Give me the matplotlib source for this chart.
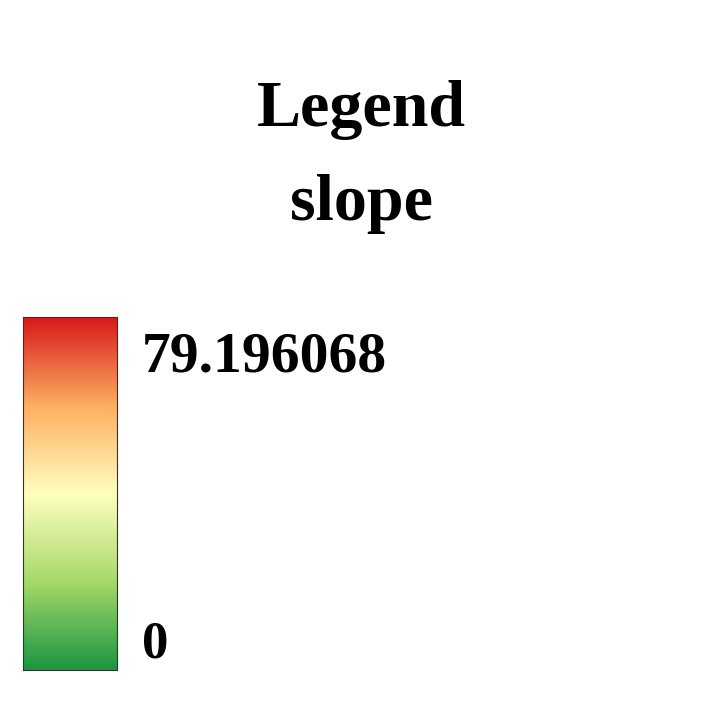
import matplotlib
matplotlib.use("Agg")
import matplotlib.pyplot as plt
import numpy as np
from matplotlib.colors import LinearSegmentedColormap

# legend data
title = "Legend"
field_name = "slope"
value_min = 0
value_max = 79.196068
ramp_colors = ["#1a9641", "#a6d96a", "#ffffbf", "#fdae61", "#d7191c"]

plt.rcParams['font.family'] = ['Liberation Serif', 'DejaVu Serif']

W = H = 708
fig = plt.figure(figsize=(W / 100, H / 100), dpi=100)

cmap = LinearSegmentedColormap.from_list("slope_ramp", ramp_colors)

# colour bar box
ax = fig.add_axes([23 / W, 1 - 670 / H, (117 - 23) / W, (670 - 317) / H])
grad = np.linspace(value_min, value_max, 256).reshape(-1, 1)
ax.imshow(grad, aspect="auto", cmap=cmap, origin="lower",
          extent=[0, 1, value_min, value_max])
ax.set_xticks([])
ax.set_yticks([])
for s in ax.spines.values():
    s.set_linewidth(0.8)
    s.set_color("#333333")

fig.text(361 / W, 1 - 126 / H, title, ha="center", va="baseline",
         fontsize=47.5, fontweight="bold")
fig.text(361 / W, 1 - 220 / H, field_name, ha="center", va="baseline",
         fontsize=47.5, fontweight="bold")
fig.text(142 / W, 1 - 371 / H, f"{value_max:.6f}", ha="left", va="baseline",
         fontsize=41.5, fontweight="bold")
fig.text(142 / W, 1 - 657 / H, f"{value_min}", ha="left", va="baseline",
         fontsize=38, fontweight="bold")

plt.savefig("out.png", dpi=100)
